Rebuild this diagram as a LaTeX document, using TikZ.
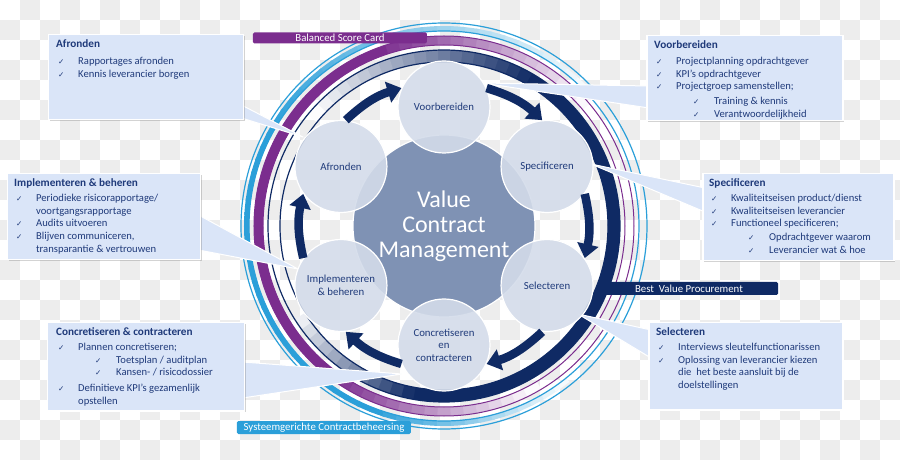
\documentclass[tikz,border=0pt]{standalone}
\usepackage{fontspec}
\setmainfont{Carlito}
\newfontfamily\symfont{DejaVu Sans}
\usetikzlibrary{arrows.meta,shadows}
\pgfdeclarelayer{back}
\pgfdeclarelayer{tails}
\pgfsetlayers{back,tails,main}

\definecolor{navy}{HTML}{0F2A64}
\definecolor{vcpurple}{HTML}{7B2D8E}
\definecolor{skyblue}{HTML}{2B9FD9}
\definecolor{boxfill}{HTML}{DAE5F8}
\definecolor{txtblue}{HTML}{1F3A7A}
\definecolor{stagefill}{HTML}{D4DCEA}
\definecolor{hubfill}{HTML}{7F92B4}
\definecolor{checker}{HTML}{EDEDED}

\newcommand{\tick}{{\symfont\fontsize{7.5}{7.5}\selectfont ✓}}
\newcommand{\itm}[1]{\makebox[22pt][l]{\hspace{2pt}\tick}#1}
\newcommand{\subitm}[1]{\hspace*{39pt}\makebox[21pt][l]{\tick}#1}
\newcommand{\cnt}[1]{\hspace*{22pt}#1}
\newcommand{\hd}[1]{{\fontsize{11.2}{12.8}\selectfont\bfseries #1}}

\tikzset{
  stage/.style={circle, minimum size=92pt, inner sep=0pt, fill=stagefill, fill opacity=0.9, text opacity=1,
    draw=white, line width=1.2pt, text=txtblue, font=\fontsize{10.8}{12.5}\selectfont, align=center},
  hub/.style={circle, minimum size=182pt, fill=hubfill, draw=white, line width=1.2pt, text=white,
    font=\fontsize{24}{25}\selectfont, align=center},
  flow/.style={draw=navy, line width=8.5pt, -{Triangle[width=21pt,length=14pt]}},
  callout/.style={rectangle, anchor=north west, inner sep=0pt, fill=boxfill, draw=white, line width=1.5pt,
    drop shadow={shadow xshift=1.5pt, shadow yshift=-1.5pt, opacity=0.35}},
  boxtext/.style={anchor=north west, inner sep=0pt, align=left, text=txtblue, font=\fontsize{10.6}{12.6}\selectfont},
  tail/.style={fill=boxfill, draw=white, line width=1pt, line join=round},
  band/.style={rectangle, rounded corners=1.5pt, inner sep=0pt, text=white, font=\fontsize{10.8}{11}\selectfont},
}

\begin{document}
\begin{tikzpicture}[x=1pt,y=1pt]
\useasboundingbox (-444,-234) rectangle (456,226);

\begin{pgfonlayer}{back}
% checker background
\foreach \i in {0,...,44}{
  \foreach \j in {0,...,22}{
    \pgfmathtruncatemacro\odd{mod(\i+\j,2)}
    \ifnum\odd=1 \fill[checker] (\i*20-444,226-\j*20) rectangle ++(20,-20); \fi
  }
}
% fading rings
\foreach \t in {0,4,...,356}{
  \pgfmathsetmacro\te{\t+4.8}
  \pgfmathsetmacro\s{mod(\t+182.4,360)-180}
  \pgfmathtruncatemacro\pn{100*max(0,min(1,(\s+150)/50,(140-\s)/80))}
  \pgfmathtruncatemacro\pp{100*max(0,min(1,(\t+2.4-40)/70,(300-\t-2.4)/65))}
  \pgfmathtruncatemacro\pb{100*max(0,min(1,(\t+2.4-40)/110,(310-\t-2.4)/60))}
  \ifnum\pn>0 \fill[navy!\pn!white] (\t:164) arc[start angle=\t, end angle=\te, radius=164]
    -- (\te:176) arc[start angle=\te, end angle=\t, radius=176] -- cycle; \fi
  \ifnum\pp>0 \fill[vcpurple!\pp!white] (\t:181) arc[start angle=\t, end angle=\te, radius=181]
    -- (\te:190) arc[start angle=\te, end angle=\t, radius=190] -- cycle; \fi
  \ifnum\pb>0 \fill[skyblue!\pb!white] (\t:195) arc[start angle=\t, end angle=\te, radius=195]
    -- (\te:200) arc[start angle=\te, end angle=\t, radius=200] -- cycle; \fi
}
\draw[navy, line width=1.2pt] (0,0) circle[radius=176] (0,0) circle[radius=164];
\draw[vcpurple, line width=1pt] (0,0) circle[radius=190] (0,0) circle[radius=181];
\draw[skyblue, line width=1.2pt] (0,0) circle[radius=203] (0,0) circle[radius=195];

\node[band, fill=vcpurple, minimum width=174pt, minimum height=11pt] (bsc) at (-104,188) {Balanced Score Card};
\node[band, fill=navy, minimum width=178pt, minimum height=13pt] (bvp) at (245,-62.5) {Best\ \ Value Procurement};
\node[band, fill=skyblue, minimum width=174pt, minimum height=13pt] (scb) at (-120,-201.5) {Systeemgerichte Contractbeheersing};
\end{pgfonlayer}

\node[hub] (mid) at (0,0) {Value\\Contract\\Management};

\node[stage] (vb) at (90:119) {Voorbereiden};
\node[stage] (spec) at (30:119) {Specificeren};
\node[stage] (sel) at (-30:119) {Selecteren};
\node[stage] (conc) at (-90:119) {Concretiseren\\en\\contracteren};
\node[stage] (impl) at (210:119) {Implementeren\\\& beheren};
\node[stage] (afr) at (150:119) {Afronden};

\foreach \a/\p/\b/\q in {afr/84/vb/156, vb/24/spec/96, spec/324/sel/36, sel/264/conc/336, conc/204/impl/276, impl/144/afr/216}
  \draw[flow] (\a.\p) to[bend left=13] (\b.\q);

% callouts
\node[callout, minimum width=195pt, minimum height=85pt] (bafr) at (-396,192) {};
\node[boxtext] (tafr) at ([shift={(8,-5)}]bafr.north west) {\hd{Afronden}\\[5pt]
  \itm{Rapportages afronden}\\
  \itm{Kennis leverancier borgen}};

\node[callout, minimum width=196pt, minimum height=85pt] (bvb) at (202,191) {};
\node[boxtext] (tvb) at ([shift={(8,-5)}]bvb.north west) {\hd{Voorbereiden}\\[4pt]
  \itm{Projectplanning opdrachtgever}\\
  \itm{KPI’s opdrachtgever}\\
  \itm{Projectgroep samenstellen;}\\[2pt]
  \subitm{Training \& kennis}\\
  \subitm{Verantwoordelijkheid}};

\node[callout, minimum width=193pt, minimum height=86pt] (bimpl) at (-437,53) {};
\node[boxtext] (timpl) at ([shift={(7,-5)}]bimpl.north west) {\hd{Implementeren \& beheren}\\[3pt]
  \itm{Periodieke risicorapportage/}\\
  \cnt{voortgangsrapportage}\\
  \itm{Audits uitvoeren}\\
  \itm{Blijven communiceren,}\\
  \cnt{transparantie \& vertrouwen}};

\node[callout, minimum width=191pt, minimum height=87pt] (bspec) at (258,53) {};
\node[boxtext] (tspec) at ([shift={(7,-5)}]bspec.north west) {\hd{Specificeren}\\[3pt]
  \itm{Kwaliteitseisen product/dienst}\\
  \itm{Kwaliteitseisen leverancier}\\
  \itm{Functioneel specificeren;}\\[1pt]
  \subitm{Opdrachtgever waarom}\\
  \subitm{Leverancier wat \& hoe}};

\node[callout, minimum width=197pt, minimum height=88pt] (bconc) at (-397,-96) {};
\node[boxtext] (tconc) at ([shift={(9,-5)}]bconc.north west) {\hd{Concretiseren \& contracteren}\\[3pt]
  \itm{Plannen concretiseren;}\\
  \subitm{Toetsplan / auditplan}\\
  \subitm{Kansen- / risicodossier}\\[3pt]
  \itm{Definitieve KPI’s gezamenlijk}\\
  \cnt{opstellen}};

\node[callout, minimum width=194pt, minimum height=87pt] (bsel) at (204,-96) {};
\node[boxtext] (tsel) at ([shift={(8,-5)}]bsel.north west) {\hd{Selecteren}\\[3pt]
  \itm{Interviews sleutelfunctionarissen}\\
  \itm{Oplossing van leverancier kiezen}\\
  \cnt{die\ \ het beste aansluit bij de}\\
  \cnt{doelstellingen}};

% pointers
\begin{pgfonlayer}{tails}
\coordinate (pafr) at (-141,89);
\coordinate (pvb) at (38,143);
\coordinate (pimpl) at (-146,-43);
\coordinate (pspec) at (147,62);
\coordinate (pconc) at (-42,-148);
\coordinate (psel) at (134,-88);
\draw[tail] ([shift={(-3,-71)}]bafr.north east) -- (pafr) -- ([shift={(-3,-84)}]bafr.north east);
\draw[tail] ([shift={(3,-51)}]bvb.north west) -- (pvb) -- ([shift={(3,-73)}]bvb.north west);
\draw[tail] ([shift={(-3,-42)}]bimpl.north east) -- (pimpl) -- ([shift={(-3,-77)}]bimpl.north east);
\draw[tail] ([shift={(3,-15)}]bspec.north west) -- (pspec) -- ([shift={(3,-39)}]bspec.north west);
\draw[tail] ([shift={(-3,-40)}]bconc.north east) -- (pconc) -- ([shift={(-3,-76)}]bconc.north east);
\draw[tail] ([shift={(3,-8)}]bsel.north west) -- (psel) -- ([shift={(3,-36)}]bsel.north west);
\end{pgfonlayer}

\end{tikzpicture}
\end{document}
